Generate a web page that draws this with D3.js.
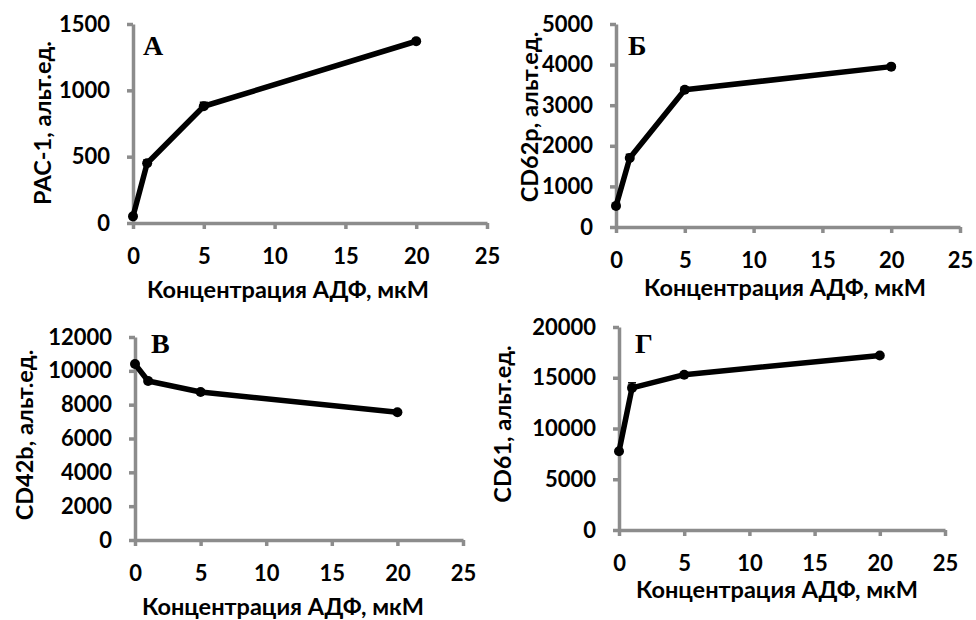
<!DOCTYPE html>
<meta charset="utf-8">
<html>
<head>
<style>
  body { margin: 0; background: #fff; }
  svg { display: block; }
  .axis path, .axis line { stroke: #8c8c8c; stroke-width: 3.5; }
  .axis text { font-family: Lato, "Open Sans", sans-serif; font-weight: bold; font-size: 22px; fill: #000; }
  .title { font-family: Lato, "Open Sans", sans-serif; font-weight: bold; font-size: 23.5px; }
  .letter { font-family: "Liberation Serif", "DejaVu Serif", serif; font-weight: bold; font-size: 28px; }
</style>
</head>
<body>
<svg width="976" height="620" id="chart"></svg>
<script src="https://d3js.org/d3.v7.min.js"></script>
<script>
// ADP concentration, uM
var conc = [0, 1, 5, 20];
var xTicks = [0, 5, 10, 15, 20, 25];

// panel values (means) and small error bars
var pac1 = [50, 450, 880, 1370];
var pac1Err = [10, 25, 30, 20];
var cd62p = [520, 1700, 3380, 3950];
var cd62pErr = [40, 90, 60, 40];
var cd42b = [10400, 9400, 8750, 7550];
var cd42bErr = [120, 150, 120, 100];
var cd61 = [7750, 14000, 15300, 17200];
var cd61Err = [150, 500, 200, 150];

var yTicksA = [0, 500, 1000, 1500];
var yTicksB = [0, 1000, 2000, 3000, 4000, 5000];
var yTicksV = [0, 2000, 4000, 6000, 8000, 10000, 12000];
var yTicksG = [0, 5000, 10000, 15000, 20000];

var xTitle = "Концентрация АДФ, мкМ";

var panels = [
  { vals: pac1, err: pac1Err, ticks: yTicksA, letter: "А", ytitle: "PAC-1, альт.ед.",
    x0: 133, x1: 487, y0: 223, y1: 24, xt: [288, 289], yt: [42, 123], lt: [143, 55] },
  { vals: cd62p, err: cd62pErr, ticks: yTicksB, letter: "Б", ytitle: "CD62p, альт.ед.",
    x0: 616, x1: 960, y0: 227, y1: 24, xt: [785, 287], yt: [529, 117], lt: [628, 55] },
  { vals: cd42b, err: cd42bErr, ticks: yTicksV, letter: "В", ytitle: "CD42b, альт.ед.",
    x0: 135, x1: 463, y0: 540, y1: 337, xt: [283, 606], yt: [24, 435], lt: [151, 353] },
  { vals: cd61, err: cd61Err, ticks: yTicksG, letter: "Г", ytitle: "CD61, альт.ед.",
    x0: 619, x1: 945, y0: 530, y1: 327, xt: [777, 589], yt: [502, 424], lt: [635, 353] }
];

var svg = d3.select("#chart");
svg.append("rect").attr("width", 976).attr("height", 620).attr("fill", "#fff");

panels.forEach(function (p) {
  var x = d3.scaleLinear().domain([0, 25]).range([p.x0, p.x1]);
  var y = d3.scaleLinear().domain([0, d3.max(p.ticks)]).range([p.y0, p.y1]);
  var g = svg.append("g");

  g.append("g")
    .attr("class", "axis")
    .attr("transform", "translate(0," + p.y0 + ")")
    .call(d3.axisBottom(x).tickValues(xTicks).tickFormat(d3.format("d"))
      .tickSize(6).tickSizeOuter(0).tickPadding(19));

  g.append("g")
    .attr("class", "axis")
    .attr("transform", "translate(" + p.x0 + ",0)")
    .call(d3.axisLeft(y).tickValues(p.ticks).tickFormat(d3.format("d"))
      .tickSize(6).tickSizeOuter(0).tickPadding(17));

  var pts = conc.map(function (c, i) { return { x: c, y: p.vals[i], e: p.err[i] }; });

  // error bars
  pts.forEach(function (d) {
    g.append("line")
      .attr("x1", x(d.x)).attr("x2", x(d.x))
      .attr("y1", y(d.y - d.e)).attr("y2", y(d.y + d.e))
      .attr("stroke", "#000").attr("stroke-width", 1.5);
    g.append("line")
      .attr("x1", x(d.x) - 4).attr("x2", x(d.x) + 4)
      .attr("y1", y(d.y + d.e)).attr("y2", y(d.y + d.e))
      .attr("stroke", "#000").attr("stroke-width", 1.5);
  });

  g.append("path")
    .datum(pts)
    .attr("fill", "none")
    .attr("stroke", "#000")
    .attr("stroke-width", 5.5)
    .attr("stroke-linejoin", "round")
    .attr("d", d3.line().x(function (d) { return x(d.x); }).y(function (d) { return y(d.y); }));

  g.selectAll(".dot")
    .data(pts)
    .enter().append("circle")
    .attr("cx", function (d) { return x(d.x); })
    .attr("cy", function (d) { return y(d.y); })
    .attr("r", 5)
    .attr("fill", "#000");

  g.append("text")
    .attr("class", "title")
    .attr("x", p.xt[0]).attr("y", p.xt[1])
    .attr("text-anchor", "middle")
    .attr("dominant-baseline", "central")
    .text(xTitle);

  g.append("text")
    .attr("class", "title")
    .attr("transform", "translate(" + p.yt[0] + "," + p.yt[1] + ") rotate(-90)")
    .attr("text-anchor", "middle")
    .attr("dominant-baseline", "central")
    .text(p.ytitle);

  g.append("text")
    .attr("class", "letter")
    .attr("x", p.lt[0]).attr("y", p.lt[1])
    .text(p.letter);
});
</script>
</body>
</html>
